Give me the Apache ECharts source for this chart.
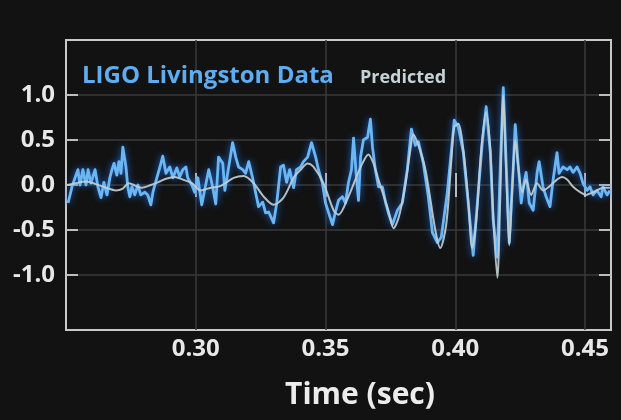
<!DOCTYPE html>
<html>
<head>
<meta charset="utf-8">
<script src="https://cdn.jsdelivr.net/npm/echarts@6/dist/echarts.min.js"></script>
<style>
  html, body { margin: 0; padding: 0; background: #121212; }
  #chart { width: 621px; height: 420px; }
</style>
</head>
<body>
<div id="chart"></div>
<script>
// Measured strain (LIGO Livingston), time in seconds
const dataTime = [
  0.2508, 0.2523, 0.2535, 0.2546, 0.2554, 0.2565, 0.2577, 0.2585, 0.2596, 0.2612,
  0.2623, 0.2635, 0.2646, 0.2658, 0.2669, 0.2677, 0.2685, 0.2696, 0.2704, 0.2712,
  0.2719, 0.2731, 0.2738, 0.2746, 0.2754, 0.2765, 0.2777, 0.2788, 0.2804, 0.2815,
  0.2827, 0.2835, 0.2850, 0.2862, 0.2873, 0.2885, 0.2900, 0.2912, 0.2927, 0.2938,
  0.2950, 0.2962, 0.2969, 0.2985, 0.2996, 0.3008, 0.3015, 0.3023, 0.3050, 0.3065,
  0.3077, 0.3088, 0.3104, 0.3112, 0.3123, 0.3142, 0.3154, 0.3165, 0.3181, 0.3192,
  0.3204, 0.3219, 0.3231, 0.3242, 0.3258, 0.3269, 0.3281, 0.3300, 0.3312, 0.3327,
  0.3338, 0.3350, 0.3362, 0.3377, 0.3388, 0.3404, 0.3415, 0.3431, 0.3446, 0.3462,
  0.3473, 0.3488, 0.3500, 0.3512, 0.3527, 0.3538, 0.3550, 0.3565, 0.3577, 0.3588,
  0.3600, 0.3608, 0.3619, 0.3627, 0.3635, 0.3646, 0.3662, 0.3673, 0.3681, 0.3692,
  0.3704, 0.3719, 0.3731, 0.3742, 0.3758, 0.3777, 0.3796, 0.3815, 0.3831, 0.3846,
  0.3858, 0.3877, 0.3896, 0.3912, 0.3931, 0.3946, 0.3969, 0.3988, 0.3996, 0.4012,
  0.4031, 0.4050, 0.4069, 0.4085, 0.4104, 0.4119, 0.4135, 0.4146, 0.4162, 0.4173,
  0.4185, 0.4196, 0.4208, 0.4223, 0.4231, 0.4242, 0.4254, 0.4262, 0.4273, 0.4285,
  0.4300, 0.4315, 0.4323, 0.4338, 0.4350, 0.4365, 0.4377, 0.4392, 0.4400, 0.4415,
  0.4431, 0.4442, 0.4454, 0.4469, 0.4481, 0.4492, 0.4508, 0.4519, 0.4531, 0.4546,
  0.4562, 0.4569, 0.4585, 0.4596
];
const dataStrain = [
  -0.20, -0.02, 0.08, 0.17, 0.00, 0.17, 0.00, 0.17, 0.02, 0.17,
  -0.02, -0.14, 0.03, -0.11, 0.08, 0.17, 0.24, 0.11, 0.26, 0.13,
  0.42, 0.20, -0.02, -0.13, -0.02, -0.11, 0.00, -0.11, -0.08, -0.11,
  -0.22, -0.08, 0.08, 0.20, 0.32, 0.13, 0.20, 0.08, 0.19, 0.09,
  0.17, 0.20, 0.08, 0.00, -0.08, 0.08, -0.06, -0.22, 0.17, -0.02,
  -0.21, 0.31, 0.24, -0.06, 0.13, 0.47, 0.31, 0.20, 0.17, 0.13,
  0.26, 0.08, -0.09, -0.24, -0.19, -0.31, -0.30, -0.42, -0.20, 0.20,
  0.22, 0.03, 0.17, -0.03, 0.17, 0.20, 0.26, 0.31, 0.47, 0.31,
  0.17, 0.02, -0.20, -0.31, -0.44, -0.30, -0.17, -0.13, -0.20, 0.02,
  0.17, 0.52, 0.09, -0.17, 0.31, 0.50, 0.53, 0.73, 0.42, 0.17,
  -0.02, -0.02, -0.19, -0.31, -0.44, -0.28, -0.20, 0.17, 0.62, 0.44,
  0.48, 0.24, -0.13, -0.53, -0.64, -0.58, -0.09, 0.47, 0.72, 0.64,
  0.36, -0.20, -0.78, -0.20, 0.47, 0.87, 0.36, -0.39, -0.80, 0.17,
  1.08, 0.24, -0.64, 0.17, 0.67, 0.24, -0.20, -0.02, 0.14, -0.20,
  -0.28, 0.13, 0.26, -0.02, -0.13, -0.24, 0.06, 0.36, 0.13, 0.20,
  0.17, 0.20, 0.14, 0.20, 0.13, 0.02, -0.06, -0.02, -0.11, -0.06,
  -0.13, -0.02, -0.11, -0.06
];

// Predicted waveform
const predTime = [
  0.2504, 0.2538, 0.2577, 0.2615, 0.2654, 0.2692, 0.2719, 0.2742, 0.2769, 0.2792,
  0.2827, 0.2854, 0.2885, 0.2919, 0.2950, 0.2985, 0.3019, 0.3058, 0.3096, 0.3146,
  0.3185, 0.3223, 0.3262, 0.3300, 0.3338, 0.3377, 0.3404, 0.3431, 0.3454, 0.3492,
  0.3531, 0.3550, 0.3588, 0.3615, 0.3642, 0.3665, 0.3685, 0.3704, 0.3742, 0.3762,
  0.3781, 0.3804, 0.3827, 0.3838, 0.3858, 0.3885, 0.3923, 0.3942, 0.3965, 0.3985,
  0.3996, 0.4012, 0.4031, 0.4050, 0.4065, 0.4081, 0.4100, 0.4119, 0.4135, 0.4146,
  0.4162, 0.4173, 0.4185, 0.4196, 0.4208, 0.4219, 0.4231, 0.4242, 0.4258, 0.4273,
  0.4292, 0.4315, 0.4338, 0.4365, 0.4392, 0.4412, 0.4431, 0.4454, 0.4481, 0.4504,
  0.4523, 0.4546, 0.4569, 0.4596
];
const predStrain = [
  0.00, 0.02, 0.04, 0.01, -0.03, -0.06, -0.04, 0.02, -0.01, -0.03,
  0.00, 0.03, 0.07, 0.09, 0.06, 0.02, -0.06, -0.03, -0.01, 0.08,
  0.10, 0.02, -0.13, -0.22, -0.14, 0.08, 0.17, 0.24, 0.20, 0.02,
  -0.28, -0.33, -0.13, 0.06, 0.24, 0.34, 0.24, 0.06, -0.28, -0.48,
  -0.37, -0.06, 0.39, 0.56, 0.44, 0.17, -0.50, -0.70, -0.44, 0.28,
  0.64, 0.68, 0.39, -0.17, -0.70, -0.39, 0.39, 0.81, 0.39, -0.33,
  -1.03, -0.17, 1.00, 0.17, -0.67, -0.06, 0.50, 0.22, -0.08, 0.06,
  -0.11, 0.02, -0.06, -0.01, 0.06, 0.09, 0.06, -0.02, -0.08, -0.11,
  -0.09, -0.06, -0.03, -0.03
];

// Axis ticks
const timeTicks = [0.30, 0.35, 0.40, 0.45];
const strainTicks = [-1.0, -0.5, 0.0, 0.5, 1.0];

const pairs = (xs, ys) => xs.map((x, i) => [x, ys[i]]);

const FONT = '"Open Sans", "Noto Sans", sans-serif';
const frameColor = '#c9c9c9';
const gridColor = '#3a3a3a';

const chart = echarts.init(document.getElementById('chart'), null, { renderer: 'canvas' });

const tickStyle = { show: true, inside: true, length: 12, lineStyle: { color: '#bdbdbd', width: 2 } };

chart.setOption({
  backgroundColor: '#121212',
  animation: false,
  grid: {
    left: 66, right: 10, top: 40, bottom: 90,
    show: true, borderColor: frameColor, borderWidth: 2, backgroundColor: 'transparent'
  },
  legend: [
    {
      data: [{ name: 'LIGO Livingston Data', textStyle: { color: '#5fadf0' } }],
      left: 77, top: 64, padding: 0, itemWidth: 0, itemHeight: 10, icon: 'none',
      textStyle: { fontFamily: FONT, fontSize: 24, fontWeight: 'bold' }
    },
    {
      data: [{ name: 'Predicted', textStyle: { color: '#c5d3d6' } }],
      left: 355, top: 69, padding: 0, itemWidth: 0, itemHeight: 10, icon: 'none',
      textStyle: { fontFamily: FONT, fontSize: 18, fontWeight: 'bold' }
    }
  ],
  xAxis: [
    {
      type: 'value', position: 'bottom', min: 0.25, max: 0.46,
      axisLine: { show: false },
      axisTick: Object.assign({ customValues: timeTicks }, tickStyle),
      splitLine: { show: true, lineStyle: { color: gridColor, width: 1.5 } },
      axisLabel: {
        customValues: timeTicks, margin: 7,
        color: '#e8e8e8', fontFamily: FONT, fontSize: 24, fontWeight: 'bold',
        formatter: v => v.toFixed(2)
      }
    },
    {
      type: 'value', position: 'top', min: 0.25, max: 0.46,
      axisLine: { show: false },
      axisTick: Object.assign({ customValues: timeTicks }, tickStyle),
      splitLine: { show: false },
      axisLabel: { show: false }
    }
  ],
  yAxis: [
    {
      type: 'value', position: 'left', min: -1.61, max: 1.61,
      axisLine: { show: false },
      axisTick: Object.assign({ customValues: strainTicks }, tickStyle),
      splitLine: { show: true, lineStyle: { color: gridColor, width: 1.5 } },
      axisLabel: {
        customValues: strainTicks, margin: 11,
        color: '#e8e8e8', fontFamily: FONT, fontSize: 24, fontWeight: 'bold',
        formatter: v => v.toFixed(1)
      }
    },
    {
      type: 'value', position: 'right', min: -1.61, max: 1.61,
      axisLine: { show: false },
      axisTick: Object.assign({ customValues: strainTicks }, tickStyle),
      splitLine: { show: false },
      axisLabel: { show: false }
    }
  ],
  graphic: [
    {
      type: 'text', x: 360, y: 395,
      style: {
        text: 'Time (sec)', align: 'center', verticalAlign: 'middle',
        fill: '#ececec', font: 'bold 30px ' + FONT
      }
    }
  ],
  series: [
    {
      name: 'LIGO Livingston Data', type: 'line',
      data: pairs(dataTime, dataStrain),
      showSymbol: false, smooth: false, z: 2,
      color: '#5fadf0',
      lineStyle: {
        color: '#6cb6f2', width: 2.8, join: 'round',
        shadowColor: 'rgba(30,110,220,0.95)', shadowBlur: 7
      }
    },
    {
      name: 'Predicted', type: 'line',
      data: pairs(predTime, predStrain),
      showSymbol: false, smooth: 0.3, z: 3,
      color: '#c5d3d6',
      lineStyle: { color: '#c3cfd3', width: 2, opacity: 0.9, join: 'round' }
    }
  ]
});
</script>
</body>
</html>
